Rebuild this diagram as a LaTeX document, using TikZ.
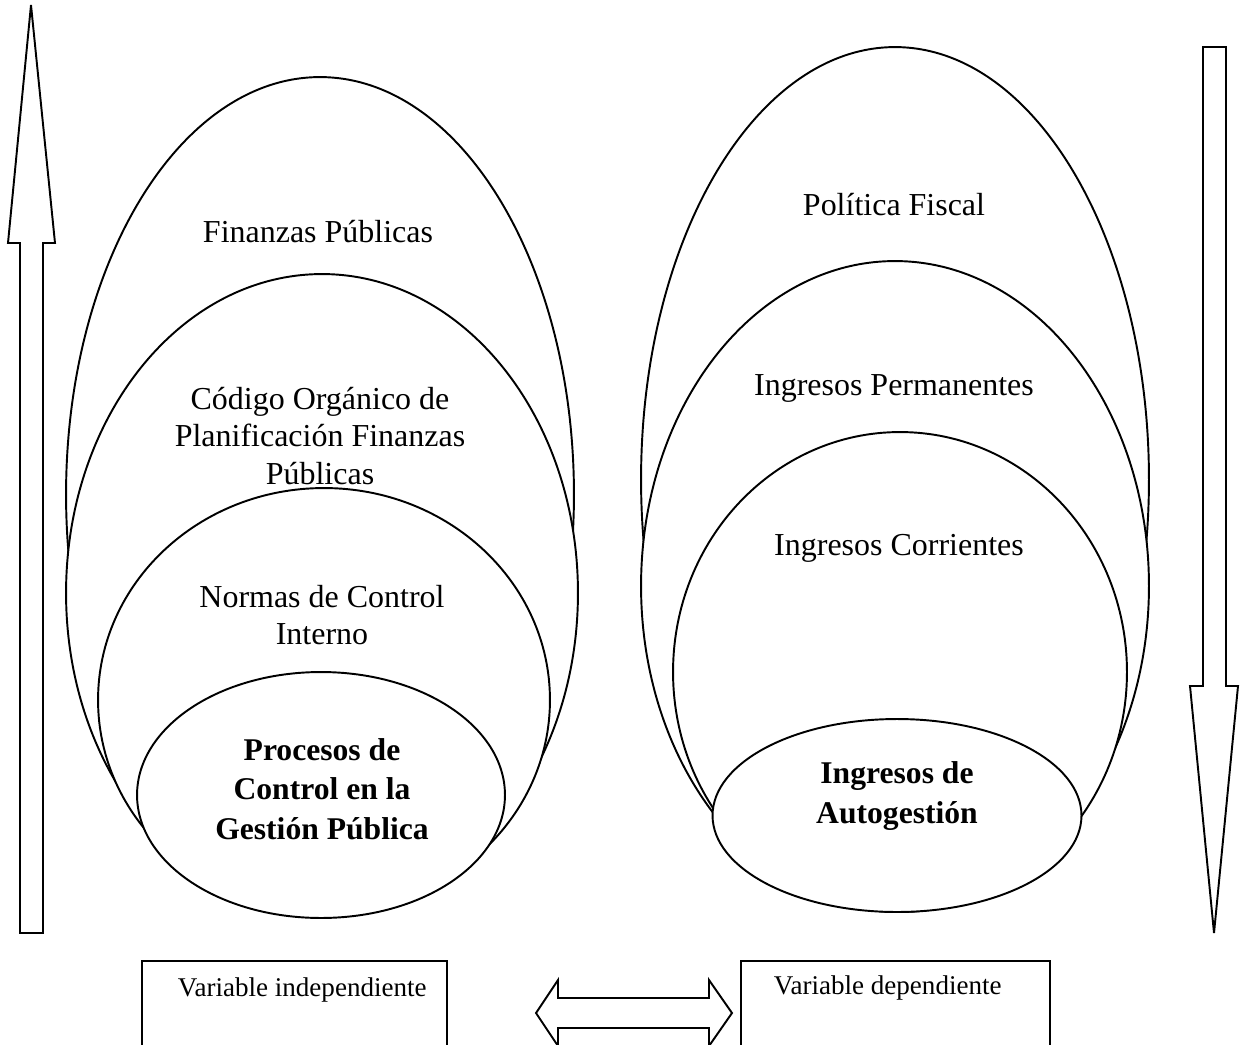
\documentclass[tikz,border=0pt]{standalone}
\usepackage{fontspec}
\setmainfont{Liberation Serif}
\usetikzlibrary{shapes.geometric}
\begin{document}
\begin{tikzpicture}[x=0.02cm,y=-0.02cm, line width=1.1pt, line join=miter,
  oval/.style={ellipse, draw, fill=white, inner sep=0pt, outer sep=0pt},
  lbl/.style={font=\fontsize{18.2}{21.3}\selectfont, align=center, inner sep=0pt},
  blbl/.style={font=\fontsize{18}{22.4}\selectfont\bfseries, align=center, inner sep=0pt},
  vlbl/.style={font=\fontsize{15.4}{19}\selectfont, inner sep=0pt, anchor=west},
  box/.style={draw, fill=white},
  bigarrow/.style={draw, fill=white}]
\useasboundingbox (0,0) rectangle (1243,1044);
\clip (0,0) rectangle (1243,1044);
% vertical arrows
\draw[bigarrow] (31,5) -- (55,243) -- (43,243) -- (43,933) -- (20,933) -- (20,243) -- (8,243) -- cycle;
\draw[bigarrow] (1203,47) -- (1226,47) -- (1226,686) -- (1238,686) -- (1214,933) -- (1190,686) -- (1203,686) -- cycle;
% left group
\node[oval, minimum width=10.16cm, minimum height=16.7cm] (le1) at (320,494.5) {};
\node[oval, minimum width=10.24cm, minimum height=12.76cm] (le2) at (322,593) {};
\node[oval, minimum width=9.04cm, minimum height=8.48cm] (le3) at (324,700) {};
\node[oval, minimum width=7.36cm, minimum height=4.92cm] (le4) at (321,795) {};
\node[lbl] (t1) at (318,232) {Finanzas Públicas};
\node[lbl] (t2) at (320,436) {Código Orgánico de\\Planificación Finanzas\\Públicas};
\node[lbl] (t3) at (322,615) {Normas de Control\\Interno};
\node[blbl] (t4) at (322,789) {Procesos de\\Control en la\\Gestión Pública};
% right group
\node[oval, minimum width=10.16cm, minimum height=17.3cm] (re1) at (895,479.5) {};
\node[oval, minimum width=10.16cm, minimum height=13.0cm] (re2) at (895,586) {};
\node[oval, minimum width=9.08cm, minimum height=9.6cm] (re3) at (900,672) {};
\node[oval, minimum width=7.38cm, minimum height=3.86cm] (re4) at (897,815.5) {};
\node[lbl] (s1) at (894,205) {Política Fiscal};
\node[lbl] (s2) at (894,388) {Ingresos Permanentes};
\node[lbl] (s3) at (899,548) {Ingresos Corrientes};
\node[blbl] (s4) at (897,796) {Ingresos de\\Autogestión};
% bottom boxes
\draw[box] (142,961) rectangle (447,1100);
\draw[box] (741,961) rectangle (1050,1100);
\node[vlbl] (vi) at (177,990) {Variable independiente};
\node[vlbl] (vd) at (773,988) {Variable dependiente};
% double arrow
\draw[bigarrow] (536,1013) -- (558,980) -- (558,998) -- (709,998) -- (709,980) -- (732,1013) -- (709,1046) -- (709,1028) -- (558,1028) -- (558,1046) -- cycle;
\end{tikzpicture}
\end{document}
